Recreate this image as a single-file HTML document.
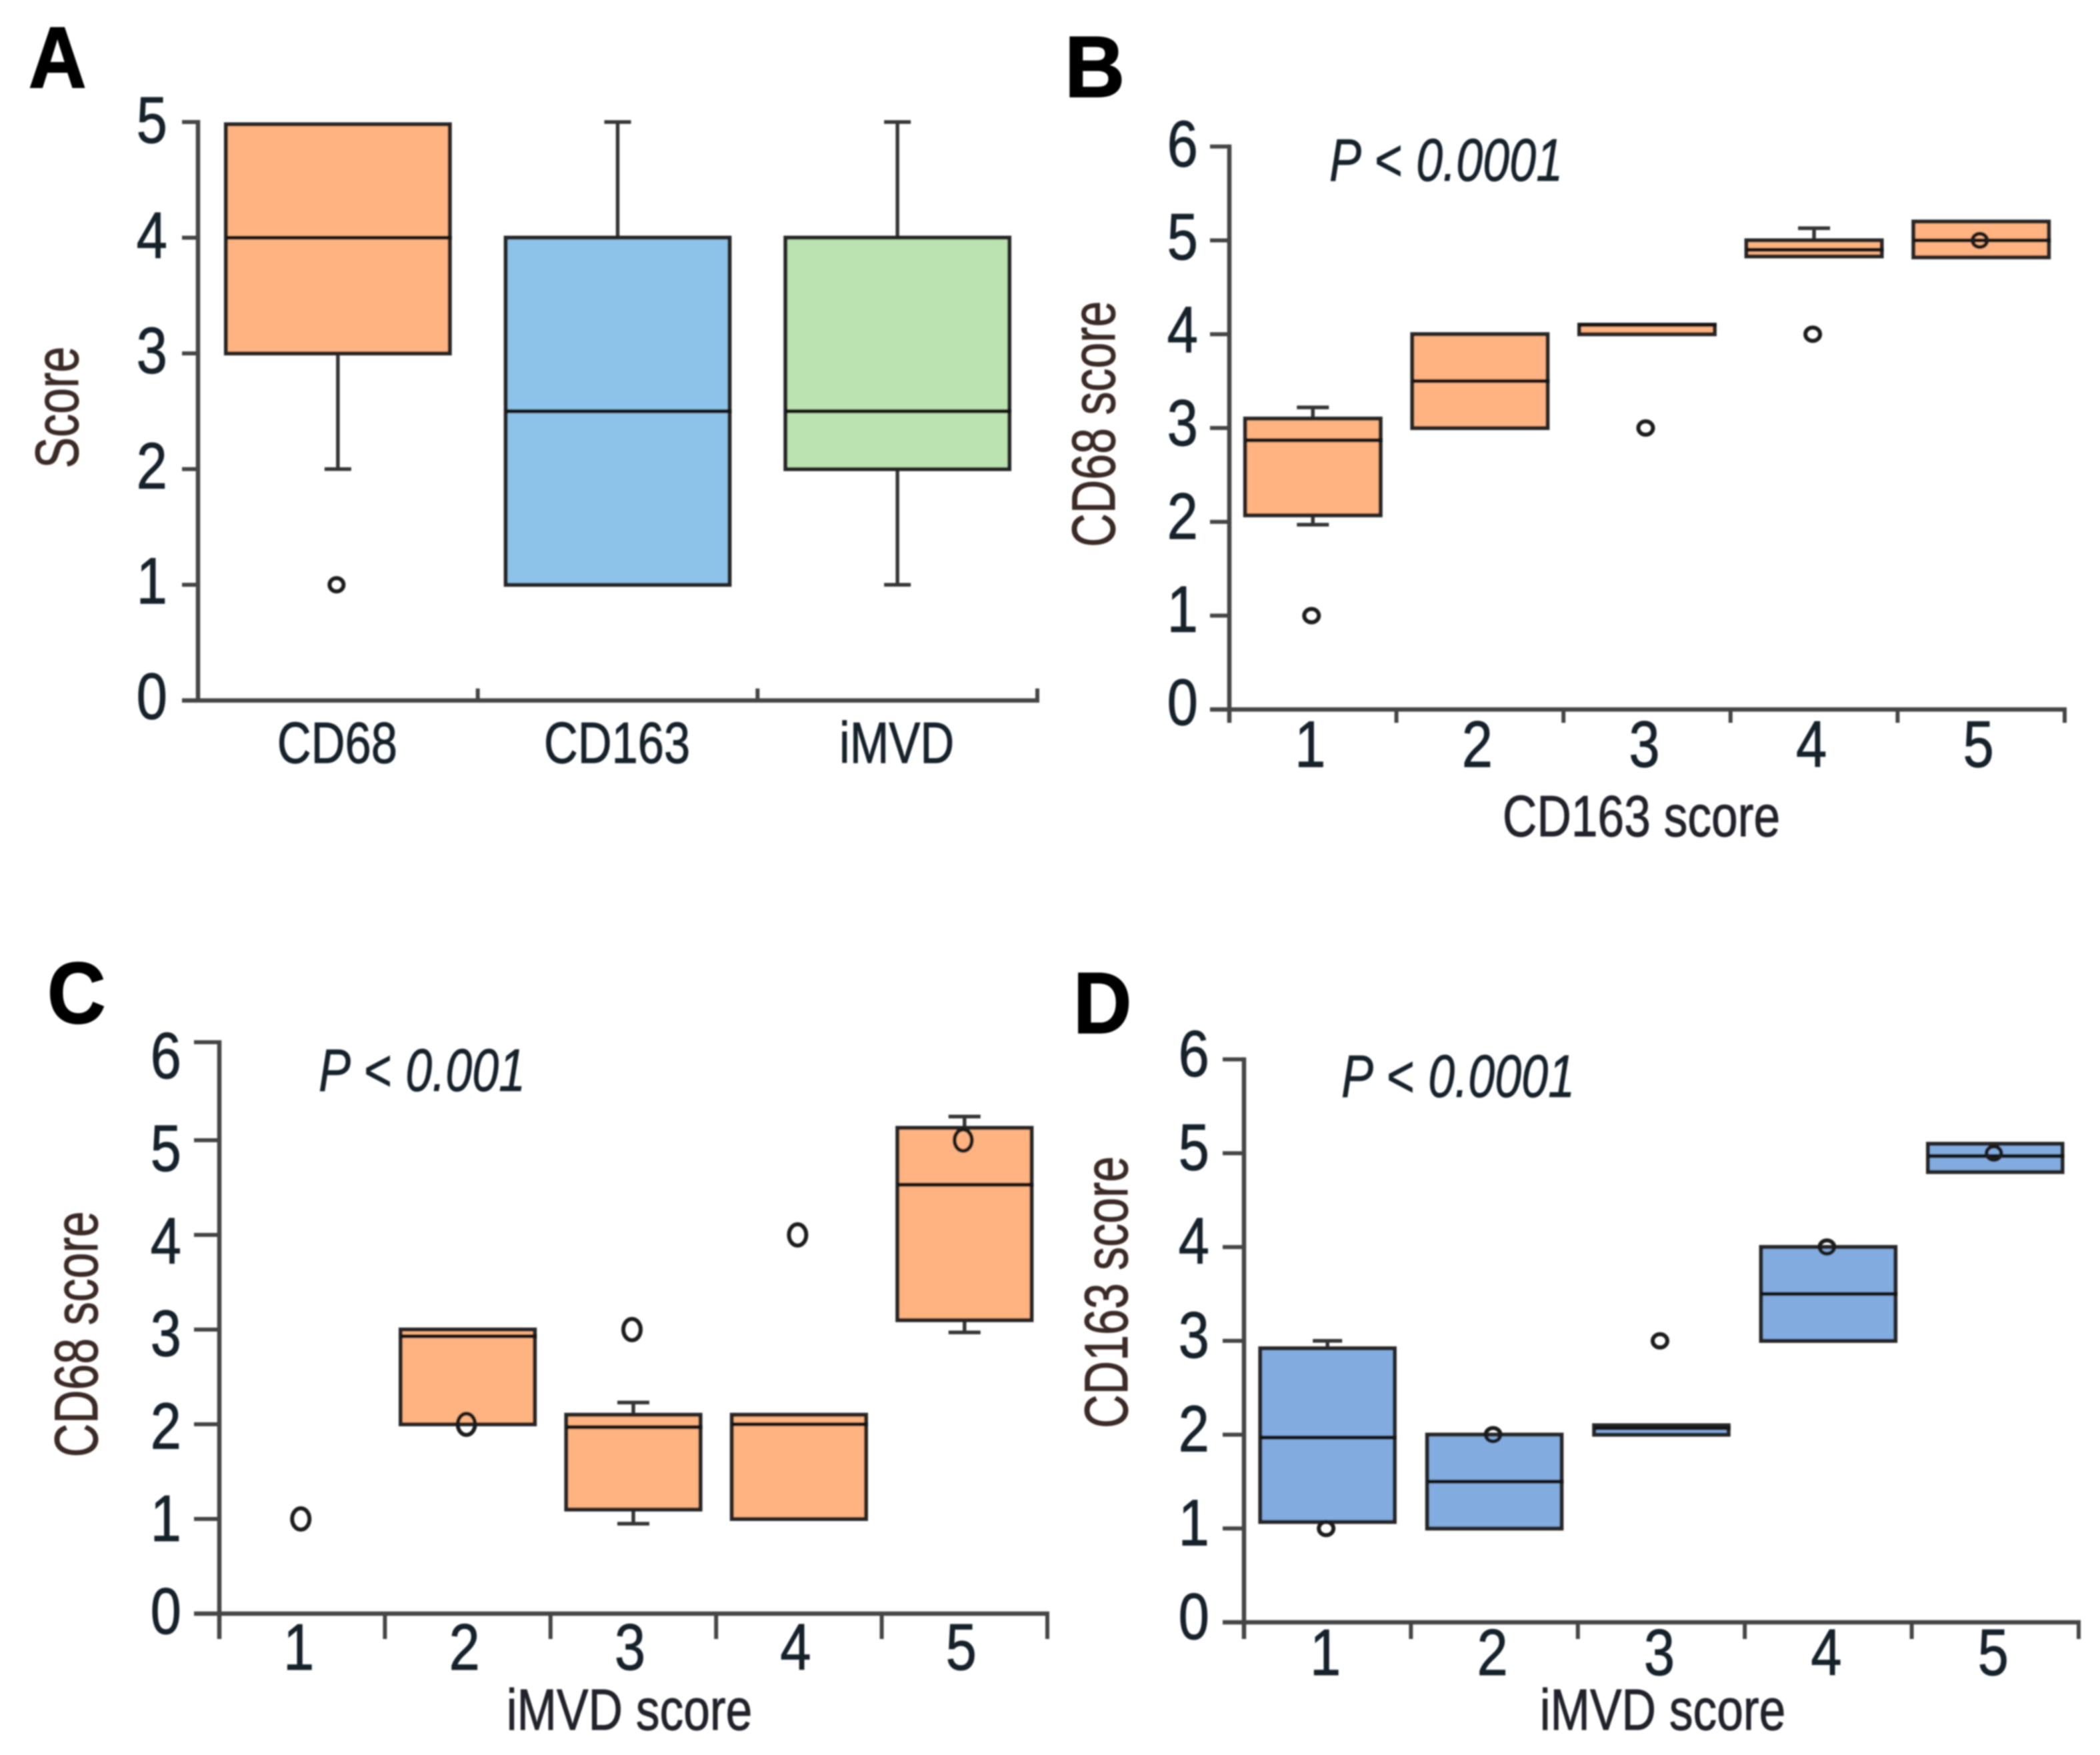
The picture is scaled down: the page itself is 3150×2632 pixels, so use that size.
<!DOCTYPE html>
<html lang="en">
<head>
<meta charset="utf-8">
<title>Boxplots of CD68, CD163 and iMVD scores</title>
<style>
html,body{margin:0;padding:0;background:#fff;}
svg{display:block;font-family:"Liberation Sans",sans-serif;}
.panel-letter{font-weight:700;font-size:130px;fill:#000;stroke:#000;stroke-width:2px;}
.tick-label{font-size:98px;fill:#15202c;stroke:#15202c;stroke-width:1px;}
.cat-label{font-size:87px;fill:#15202c;stroke:#15202c;stroke-width:1px;}
.axis-title{font-size:87px;fill:#20222a;stroke:#20222a;stroke-width:1px;}
.y-title{font-size:92px;fill:#3a2c28;stroke:#3a2c28;stroke-width:1px;}
.p-label{font-size:90px;fill:#15202c;stroke:#15202c;stroke-width:.8px;}
</style>
</head>
<body>
<svg id="fig" xmlns="http://www.w3.org/2000/svg" width="3150" height="2632" viewBox="0 0 3150 2632">
<defs><filter id="soft" x="0" y="0" width="100%" height="100%" filterUnits="userSpaceOnUse"><feGaussianBlur stdDeviation="1.1"/></filter></defs>
<rect width="3150" height="2632" fill="#fff"/>
<g id="root" filter="url(#soft)">
<text class="panel-letter" transform="translate(43,131) scale(.92,1)">A</text>
<text class="panel-letter" transform="translate(1597,145) scale(.96,1)">B</text>
<text class="panel-letter" transform="translate(71,1534) scale(.93,1)">C</text>
<text class="panel-letter" transform="translate(1610,1549) scale(.93,1)">D</text>

<text class="y-title" text-anchor="middle" transform="translate(117,611) rotate(-90) scale(.76,1)">Score</text>
<text class="y-title" text-anchor="middle" transform="translate(1672,636) rotate(-90) scale(.76,1)">CD68 score</text>
<text class="y-title" text-anchor="middle" transform="translate(146,2001) rotate(-90) scale(.76,1)">CD68 score</text>
<text class="y-title" text-anchor="middle" transform="translate(1691,1938) rotate(-90) scale(.76,1)">CD163 score</text>

<text class="axis-title" text-anchor="middle" transform="translate(2462,1254) scale(.82,1)">CD163 score</text>
<text class="axis-title" text-anchor="middle" transform="translate(944,2594) scale(.82,1)">iMVD score</text>
<text class="axis-title" text-anchor="middle" transform="translate(2494,2594) scale(.82,1)">iMVD score</text>

<text class="p-label" transform="translate(1994,271) scale(.8,1)"><tspan font-style="italic">P</tspan> &lt; <tspan font-style="italic">0.0001</tspan></text>
<text class="p-label" transform="translate(478,1636) scale(.8,1)"><tspan font-style="italic">P</tspan> &lt; <tspan font-style="italic">0.001</tspan></text>
<text class="p-label" transform="translate(2012,1645) scale(.8,1)"><tspan font-style="italic">P</tspan> &lt; <tspan font-style="italic">0.0001</tspan></text>
</g>
</svg>
<script>
// Panel A
const aCategories = ['CD68', 'CD163', 'iMVD'];
const aYTicks = [0, 1, 2, 3, 4, 5];
const aQ1 = [3, 1, 2];
const aMedian = [4, 2.5, 2.5];
const aQ3 = [4.98, 4, 4];
const aWhiskerLow = [2, 1, 1];
const aWhiskerHigh = [null, 5, 5];
const aOutliers = [1, null, null];

// Panel B
const bCategories = ['1', '2', '3', '4', '5'];
const bYTicks = [0, 1, 2, 3, 4, 5, 6];
const bQ1 = [2.07, 3, 4, 4.83, 4.82];
const bMedian = [2.87, 3.5, 4.1, 4.9, 5];
const bQ3 = [3.1, 4, 4.1, 5, 5.2];
const bWhiskerLow = [1.97, null, null, null, null];
const bWhiskerHigh = [3.22, null, null, 5.13, null];
const bOutliers = [1, null, 3, 4, 5];

// Panel C
const cCategories = ['1', '2', '3', '4', '5'];
const cYTicks = [0, 1, 2, 3, 4, 5, 6];
const cQ1 = [null, 2, 1.1, 1, 3.1];
const cMedian = [null, 2.93, 1.97, 2, 4.53];
const cQ3 = [null, 3, 2.1, 2.1, 5.13];
const cWhiskerLow = [null, null, 0.95, null, 2.97];
const cWhiskerHigh = [null, null, 2.23, null, 5.25];
const cOutliers = [1, 2, 3, 4, 5];

// Panel D
const dCategories = ['1', '2', '3', '4', '5'];
const dYTicks = [0, 1, 2, 3, 4, 5, 6];
const dQ1 = [1.07, 1, 2, 3, 4.8];
const dMedian = [1.97, 1.5, 2.07, 3.5, 4.97];
const dQ3 = [2.92, 2, 2.1, 4, 5.1];
const dWhiskerLow = [null, null, null, null, null];
const dWhiskerHigh = [3, null, null, null, null];
const dOutliers = [1, 2, 3, 4, 5];

const NS = 'http://www.w3.org/2000/svg';
const root = document.getElementById('root');
const AXIS = '#454545';
const LINE = '#262626';

function mk(tag, attrs, parent) {
  const el = document.createElementNS(NS, tag);
  for (const k in attrs) el.setAttribute(k, attrs[k]);
  parent.appendChild(el);
  return el;
}

function drawPanel(id, geom, data) {
  const g = mk('g', {}, root);
  
  
  const n = data.categories.length;
  const band = (geom.xEnd - geom.x0) / n;
  const xCenter = i => geom.x0 + (i + 0.5) * band;
  const yScale = v => geom.y0 - v * geom.unit;
  const yMax = data.yTicks[data.yTicks.length - 1];
  const tickY = v => yScale(v) - (v === yMax ? (geom.topShift || 0) : 0);

  data.categories.forEach((cat, i) => {
    const cx = xCenter(i);
    const halfW = band * geom.boxW / 2;
    const lo = data.whiskerLow[i], hi = data.whiskerHigh[i];
    const q1 = data.q1[i], q3 = data.q3[i], med = data.median[i];
    if (q1 !== null && lo !== null) {
      const wl = mk('path', {d: 'M' + cx + ' ' + yScale(q1) + 'V' + yScale(lo) + 'M' + (cx - geom.cap) + ' ' + yScale(lo) + 'H' + (cx + geom.cap), fill: 'none', stroke: '#363636', 'stroke-width': 5.5}, g);
      
      
    }
    if (q3 !== null && hi !== null) {
      const wh = mk('path', {d: 'M' + cx + ' ' + yScale(q3) + 'V' + yScale(hi) + 'M' + (cx - geom.cap) + ' ' + yScale(hi) + 'H' + (cx + geom.cap), fill: 'none', stroke: '#363636', 'stroke-width': 5.5}, g);
      
      
    }
    const fill = Array.isArray(geom.fill) ? geom.fill[i] : geom.fill;
    if (q1 !== null) {
      const box = mk('rect', {x: cx - halfW, y: yScale(q3), width: halfW * 2, height: yScale(q1) - yScale(q3), fill: fill, stroke: LINE, 'stroke-width': 6}, g);
      
      
      const m = mk('line', {x1: cx - halfW, x2: cx + halfW + 3, y1: yScale(med), y2: yScale(med), stroke: '#181818', 'stroke-width': 6}, g);
      
      
    }
    if (data.outliers[i] !== null) {
      const o = mk('ellipse', {cx: cx - 2, cy: yScale(data.outliers[i]), rx: geom.rx, ry: geom.ry, fill: 'none', stroke: '#1e1e1e', 'stroke-width': 6}, g);
      
      
    }
    const label = mk('text', {'text-anchor': 'middle', transform: 'translate(' + (cx + geom.catShift) + ',' + geom.catY + ') scale(' + geom.catSx + ',1)', 'class': geom.catClass}, g);
    label.textContent = cat;
    
    
  });

  // y axis
  const yAxis = mk('line', {x1: geom.x0, x2: geom.x0, y1: tickY(yMax) - 3, y2: geom.y0 + geom.xTickDown, stroke: AXIS, 'stroke-width': 6.5}, g);
  
  
  data.yTicks.forEach(v => {
    const t = mk('line', {x1: geom.x0 - geom.yTickLen, x2: geom.x0, y1: tickY(v), y2: tickY(v), stroke: AXIS, 'stroke-width': 6}, g);
    
    
    const label = mk('text', {'text-anchor': 'end', 'class': 'tick-label', transform: 'translate(' + geom.yLabelRight + ',' + (geom.labelBase - v * geom.labelStep) + ') scale(.85,1)'}, g);
    label.textContent = v;
    
    
  });

  // x axis
  const xAxis = mk('line', {x1: geom.x0 - geom.yTickLen, x2: geom.xEnd + 3, y1: geom.y0, y2: geom.y0, stroke: AXIS, 'stroke-width': 6.5}, g);
  
  
  for (let i = 1; i <= n; i++) {
    const tx = geom.x0 + i * band;
    const t = mk('line', {x1: tx, x2: tx, y1: geom.y0 - geom.xTickUp, y2: geom.y0 + geom.xTickDown, stroke: AXIS, 'stroke-width': 6}, g);
    
    
  }
}

drawPanel('a',
  {x0: 297, xEnd: 1556, y0: 1050.5, unit: 173.5, boxW: .80, cap: 20, rx: 10.5, ry: 10, catY: 1144, catSx: .81, catShift: -1, catClass: 'cat-label', yLabelRight: 251, labelBase: 1078, labelStep: 172.8, yTickLen: 24, xTickUp: 18, xTickDown: 0, fill: ['#FFB380', '#8DC3E8', '#BBE2B1']},
  {categories: aCategories, yTicks: aYTicks, q1: aQ1, median: aMedian, q3: aQ3, whiskerLow: aWhiskerLow, whiskerHigh: aWhiskerHigh, outliers: aOutliers});

drawPanel('b',
  {x0: 1844, xEnd: 3097, y0: 1064, unit: 140.7, boxW: .81, cap: 24, rx: 11, ry: 10, catY: 1150, catSx: .85, catShift: -4, catClass: 'tick-label', yLabelRight: 1797, labelBase: 1087, labelStep: 139.6, yTickLen: 29, xTickUp: 0, xTickDown: 20, fill: '#FFB380'},
  {categories: bCategories, yTicks: bYTicks, q1: bQ1, median: bMedian, q3: bQ3, whiskerLow: bWhiskerLow, whiskerHigh: bWhiskerHigh, outliers: bOutliers});

drawPanel('c',
  {x0: 329, xEnd: 1571, y0: 2420, unit: 142, topShift: 5, boxW: .81, cap: 24, rx: 13, ry: 16, catY: 2504, catSx: .85, catShift: -5, catClass: 'tick-label', yLabelRight: 272, labelBase: 2450, labelStep: 138.8, yTickLen: 38, xTickUp: 0, xTickDown: 38, fill: '#FFB380'},
  {categories: cCategories, yTicks: cYTicks, q1: cQ1, median: cMedian, q3: cQ3, whiskerLow: cWhiskerLow, whiskerHigh: cWhiskerHigh, outliers: cOutliers});

drawPanel('d',
  {x0: 1866, xEnd: 3118, y0: 2433, unit: 140.7, boxW: .805, cap: 22, rx: 11, ry: 10, catY: 2512, catSx: .85, catShift: -3, catClass: 'tick-label', yLabelRight: 1814, labelBase: 2458, labelStep: 140.7, yTickLen: 32, xTickUp: 0, xTickDown: 25, fill: '#82ACE0'},
  {categories: dCategories, yTicks: dYTicks, q1: dQ1, median: dMedian, q3: dQ3, whiskerLow: dWhiskerLow, whiskerHigh: dWhiskerHigh, outliers: dOutliers});
</script>
</body>
</html>
